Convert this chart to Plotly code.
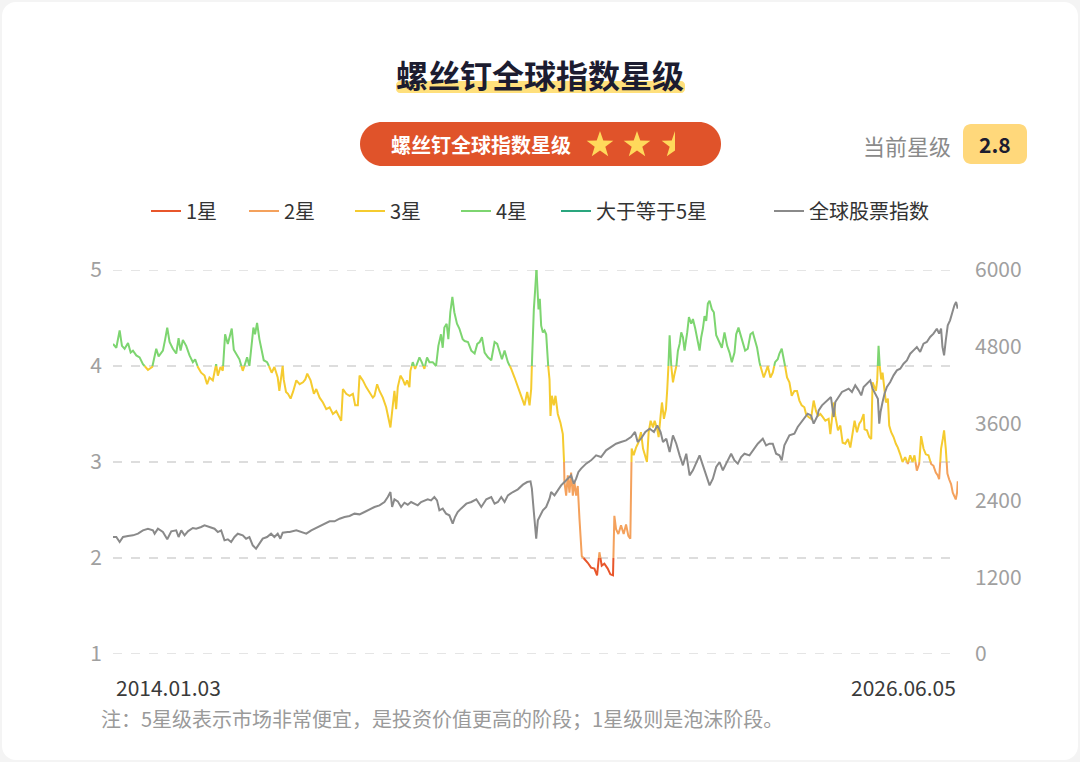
import math
import plotly.graph_objects as go

# ---------------- data ----------------
star_years = [
    2014.000, 2014.049, 2014.098, 2014.132, 2014.171, 2014.221, 2014.260, 2014.294, 2014.343, 2014.392,
    2014.441, 2014.515, 2014.578, 2014.613, 2014.637, 2014.672, 2014.735, 2014.769, 2014.799, 2014.833,
    2014.882, 2014.931, 2014.966, 2014.995, 2015.029, 2015.078, 2015.127, 2015.176, 2015.210, 2015.250,
    2015.298, 2015.348, 2015.386, 2015.421, 2015.470, 2015.519, 2015.544, 2015.583, 2015.617, 2015.651,
    2015.691, 2015.715, 2015.749, 2015.779, 2015.813, 2015.862, 2015.911, 2015.945, 2015.975, 2016.009,
    2016.043, 2016.068, 2016.092, 2016.122, 2016.156, 2016.190, 2016.220, 2016.269, 2016.303, 2016.337,
    2016.377, 2016.401, 2016.426, 2016.450, 2016.474, 2016.499, 2016.514, 2016.548,
    2016.577, 2016.616, 2016.651, 2016.700, 2016.749, 2016.798, 2016.832, 2016.861, 2016.910, 2016.959,
    2016.994, 2017.043, 2017.092, 2017.141, 2017.190, 2017.239, 2017.288, 2017.327, 2017.361, 2017.386,
    2017.435, 2017.484, 2017.533, 2017.567, 2017.606, 2017.631, 2017.680, 2017.729, 2017.778, 2017.827,
    2017.851, 2017.890, 2017.925, 2017.974, 2018.023, 2018.057, 2018.086, 2018.121, 2018.145, 2018.170,
    2018.194, 2018.233, 2018.268, 2018.302, 2018.331, 2018.366, 2018.380, 2018.415, 2018.449, 2018.488,
    2018.513, 2018.547, 2018.586, 2018.625, 2018.660, 2018.709, 2018.758, 2018.792, 2018.831, 2018.856,
    2018.880, 2018.914, 2018.939, 2018.968, 2018.998, 2019.027, 2019.066, 2019.101, 2019.150,
    2019.179, 2019.228, 2019.277, 2019.326, 2019.365, 2019.400, 2019.434, 2019.473, 2019.522, 2019.571,
    2019.620, 2019.659, 2019.694, 2019.728, 2019.767, 2019.816, 2019.865, 2019.914, 2019.953, 2019.988,
    2020.037, 2020.061, 2020.100, 2020.135, 2020.159, 2020.174, 2020.198, 2020.218, 2020.237, 2020.252,
    2020.267, 2020.286, 2020.306, 2020.331, 2020.355, 2020.380, 2020.404, 2020.429, 2020.443, 2020.463,
    2020.492, 2020.517, 2020.551, 2020.590, 2020.625, 2020.639, 2020.649, 2020.674, 2020.698, 2020.723,
    2020.747, 2020.772, 2020.796, 2020.821, 2020.845, 2020.870, 2020.904, 2020.943, 2020.992, 2021.041,
    2021.090, 2021.129, 2021.164, 2021.198, 2021.237, 2021.286, 2021.325, 2021.364, 2021.384, 2021.409,
    2021.443, 2021.482, 2021.521, 2021.556, 2021.590, 2021.619, 2021.639, 2021.668, 2021.703, 2021.737,
    2021.776, 2021.806, 2021.840, 2021.864, 2021.889, 2021.918, 2021.953, 2021.977, 2022.016, 2022.036,
    2022.065, 2022.085, 2022.114, 2022.144, 2022.163, 2022.183, 2022.198, 2022.222, 2022.247, 2022.271,
    2022.296, 2022.320, 2022.345, 2022.369, 2022.394, 2022.418, 2022.457, 2022.482, 2022.516, 2022.541,
    2022.575, 2022.614, 2022.639, 2022.663, 2022.688, 2022.712, 2022.737, 2022.761, 2022.786, 2022.820,
    2022.849, 2022.884, 2022.933, 2022.967, 2023.006, 2023.045, 2023.080, 2023.114, 2023.153, 2023.178,
    2023.212, 2023.241, 2023.276, 2023.310, 2023.349, 2023.388, 2023.423, 2023.457, 2023.486, 2023.521,
    2023.545, 2023.584, 2023.619, 2023.643, 2023.682, 2023.717, 2023.751, 2023.790, 2023.815, 2023.849,
    2023.873, 2023.898, 2023.927, 2023.962, 2023.996, 2024.035, 2024.074, 2024.109, 2024.143, 2024.182,
    2024.207, 2024.241, 2024.280, 2024.319, 2024.354, 2024.383, 2024.418, 2024.452, 2024.491, 2024.540,
    2024.565, 2024.589, 2024.614, 2024.638, 2024.677, 2024.712, 2024.746, 2024.785, 2024.824, 2024.859,
    2024.883, 2024.922, 2024.957, 2024.991, 2025.020, 2025.055, 2025.069, 2025.104, 2025.138, 2025.167,
    2025.187, 2025.216, 2025.236, 2025.255, 2025.275, 2025.295, 2025.314, 2025.334, 2025.363, 2025.383,
    2025.412, 2025.432, 2025.461, 2025.496, 2025.530, 2025.559, 2025.594, 2025.628, 2025.667, 2025.706,
    2025.741, 2025.775, 2025.804, 2025.839, 2025.873, 2025.902, 2025.937, 2025.971, 2026.010, 2026.049,
    2026.084, 2026.118, 2026.147, 2026.167, 2026.196, 2026.221, 2026.240, 2026.265, 2026.289, 2026.314,
    2026.343, 2026.368, 2026.392, 2026.412, 2026.431, 2026.441,
]
star_values = [
    4.23, 4.19, 4.37, 4.21, 4.18, 4.24, 4.14, 4.16, 4.11, 4.09,
    4.02, 3.96, 3.99, 4.09, 4.18, 4.10, 4.16, 4.28, 4.40, 4.25,
    4.18, 4.13, 4.29, 4.16, 4.27, 4.21, 4.11, 4.04, 4.07, 3.99,
    3.93, 3.90, 3.81, 3.88, 3.85, 4.02, 3.90, 3.99, 3.95, 4.33,
    4.23, 4.30, 4.39, 4.17, 4.13, 4.07, 3.95, 4.02, 4.09, 4.00,
    4.28, 4.40, 4.33, 4.45, 4.28, 4.18, 4.06, 4.04, 3.99, 3.93,
    3.99, 3.93, 3.88, 3.74, 3.88, 4.00, 3.86, 3.73,
    3.71, 3.66, 3.73, 3.85, 3.81, 3.83, 3.86, 3.92, 3.85, 3.71,
    3.76, 3.67, 3.62, 3.55, 3.57, 3.50, 3.53, 3.47, 3.43, 3.76,
    3.71, 3.69, 3.71, 3.59, 3.59, 3.90, 3.85, 3.78, 3.73, 3.67,
    3.69, 3.81, 3.74, 3.67, 3.57, 3.45, 3.36, 3.59, 3.74, 3.55,
    3.78, 3.90, 3.86, 3.80, 3.85, 3.78, 3.95, 4.04, 3.97, 4.04,
    4.09, 4.04, 3.97, 4.09, 4.04, 4.04, 4.00, 4.21, 4.33, 4.19,
    4.40, 4.44, 4.28, 4.56, 4.72, 4.56, 4.44, 4.39, 4.28,
    4.26, 4.25, 4.16, 4.13, 4.23, 4.25, 4.30, 4.14, 4.09, 4.06,
    4.25, 4.23, 4.14, 4.07, 4.16, 4.04, 3.97, 3.88, 3.80, 3.74,
    3.64, 3.59, 3.73, 3.59, 3.76, 4.13, 4.59, 4.80, 5.01, 4.73,
    4.59, 4.70, 4.42, 4.35, 4.37, 4.33, 4.04, 3.86, 3.48, 3.69,
    3.59, 3.69, 3.50, 3.41, 3.29, 3.14, 2.79, 2.65, 2.86, 2.68,
    2.89, 2.65, 2.79, 2.65, 2.75, 2.41, 2.02, 1.99, 1.95, 1.90,
    1.89, 1.82, 2.06, 1.92, 1.94, 1.89, 1.83, 1.82, 2.44, 2.30,
    2.25, 2.34, 2.25, 2.35, 2.23, 2.20, 3.14, 3.07, 3.15, 3.20,
    3.31, 3.14, 3.07, 3.00, 3.31, 3.43, 3.36, 3.43, 3.34, 3.26,
    3.48, 3.62, 3.45, 3.55, 3.76, 4.04, 4.32, 4.00, 3.83, 3.92,
    3.99, 4.16, 4.23, 4.35, 4.30, 4.16, 4.35, 4.51, 4.44, 4.49,
    4.39, 4.23, 4.16, 4.30, 4.39, 4.52, 4.47, 4.65, 4.68, 4.59,
    4.56, 4.32, 4.25, 4.19, 4.35, 4.21, 4.14, 4.04, 4.14, 4.33,
    4.40, 4.33, 4.23, 4.16, 4.18, 4.33, 4.35, 4.25, 4.19, 4.04,
    3.97, 3.88, 3.95, 4.00, 3.88, 3.93, 4.04, 4.07, 4.13, 4.18,
    4.07, 4.00, 3.88, 3.83, 3.69, 3.74, 3.74, 3.64, 3.59, 3.57,
    3.50, 3.47, 3.45, 3.64, 3.53, 3.48, 3.50, 3.47, 3.43, 3.45,
    3.29, 3.45, 3.62, 3.48, 3.33, 3.38, 3.20, 3.19, 3.24, 3.15,
    3.27, 3.43, 3.31, 3.40, 3.43, 3.50, 3.34, 3.33, 3.26, 3.24,
    3.83, 3.78, 3.74, 3.85, 4.21, 3.97, 3.86, 3.93, 3.78, 3.62,
    3.66, 3.38, 3.31, 3.26, 3.19, 3.15, 3.08, 3.00, 3.05, 2.98,
    3.07, 3.00, 3.07, 2.91, 2.98, 3.27, 3.14, 3.08, 3.07, 2.98,
    2.96, 2.89, 2.86, 2.82, 3.14, 3.24, 3.33, 3.14, 2.88, 2.82,
    2.77, 2.68, 2.65, 2.61, 2.68, 2.80,
]

index_years = [
    2014.000, 2014.049, 2014.098, 2014.147, 2014.221, 2014.294, 2014.368, 2014.441, 2014.515, 2014.588,
    2014.613, 2014.662, 2014.735, 2014.799, 2014.858, 2014.931, 2014.966, 2015.005, 2015.054, 2015.103,
    2015.176, 2015.225, 2015.298, 2015.348, 2015.421, 2015.495, 2015.544, 2015.593, 2015.642, 2015.691,
    2015.740, 2015.789, 2015.838, 2015.911, 2015.960, 2016.009, 2016.058, 2016.107, 2016.156, 2016.205,
    2016.269, 2016.328, 2016.377, 2016.426, 2016.465, 2016.499, 2016.573,
    2016.602, 2016.700, 2016.773, 2016.847, 2016.920, 2017.018, 2017.116, 2017.190, 2017.263, 2017.337,
    2017.410, 2017.484, 2017.557, 2017.631, 2017.704, 2017.778, 2017.851, 2017.925, 2017.998, 2018.047,
    2018.086, 2018.111, 2018.145, 2018.194, 2018.243, 2018.292, 2018.341, 2018.390, 2018.439, 2018.488,
    2018.537, 2018.586, 2018.635, 2018.684, 2018.733, 2018.772, 2018.807, 2018.856, 2018.905, 2018.954,
    2019.003, 2019.037, 2019.076, 2019.125, 2019.174,
    2019.204, 2019.277, 2019.351, 2019.424, 2019.498, 2019.571, 2019.620, 2019.669, 2019.718, 2019.767,
    2019.816, 2019.890, 2019.963, 2020.037, 2020.100, 2020.149, 2020.169, 2020.198, 2020.218, 2020.233,
    2020.257, 2020.296, 2020.331, 2020.380, 2020.429, 2020.453, 2020.502, 2020.551, 2020.600, 2020.649,
    2020.698, 2020.747, 2020.786, 2020.821, 2020.855, 2020.894, 2020.968, 2021.041, 2021.115, 2021.188,
    2021.262, 2021.335, 2021.409, 2021.482, 2021.556, 2021.629, 2021.688, 2021.727, 2021.776,
    2021.840, 2021.904, 2021.967, 2022.016, 2022.065, 2022.100, 2022.149, 2022.198, 2022.247, 2022.296,
    2022.345, 2022.394, 2022.443, 2022.492, 2022.541, 2022.590, 2022.639, 2022.688, 2022.737, 2022.786,
    2022.835, 2022.884, 2022.933, 2022.982, 2023.031, 2023.104, 2023.153, 2023.202, 2023.251, 2023.300,
    2023.374, 2023.447, 2023.496, 2023.570, 2023.619, 2023.668, 2023.717, 2023.766, 2023.815, 2023.849,
    2023.888, 2023.962, 2024.035, 2024.084, 2024.158, 2024.231, 2024.280, 2024.319, 2024.378,
    2024.393, 2024.442, 2024.491, 2024.540, 2024.574, 2024.614, 2024.638, 2024.687, 2024.736, 2024.785,
    2024.834, 2024.883, 2024.932, 2024.981, 2025.020, 2025.055, 2025.104, 2025.153, 2025.187, 2025.226,
    2025.265, 2025.285, 2025.304, 2025.334, 2025.363, 2025.398, 2025.447, 2025.496, 2025.545, 2025.594,
    2025.643, 2025.692, 2025.741, 2025.790, 2025.839, 2025.888, 2025.937, 2025.986, 2026.035, 2026.084,
    2026.133, 2026.167, 2026.196, 2026.216, 2026.240, 2026.265, 2026.294, 2026.328, 2026.363, 2026.392,
    2026.417, 2026.441,
]
index_values = [
    1828, 1828, 1750, 1828, 1844, 1854, 1880, 1932, 1958, 1932,
    1880, 1958, 1906, 1792, 1917, 1932, 1828, 1932, 1854, 1917,
    1969, 1958, 1984, 2010, 1984, 1958, 1906, 1932, 1776, 1792,
    1750, 1828, 1880, 1854, 1802, 1828, 1698, 1646, 1724, 1802,
    1828, 1880, 1828, 1880, 1802, 1896, 1906,
    1906, 1932, 1906, 1880, 1932, 1984, 2036, 2073, 2073, 2114,
    2140, 2156, 2193, 2182, 2219, 2260, 2297, 2323, 2375, 2453,
    2531, 2297, 2417, 2385, 2297, 2364, 2333, 2375, 2349, 2323,
    2375, 2401, 2417, 2401, 2453, 2401, 2245, 2271, 2193, 2167,
    2036, 2140, 2219, 2271, 2323,
    2349, 2375, 2417, 2297, 2417, 2453, 2349, 2375, 2453, 2375,
    2479, 2531, 2573, 2646, 2687, 2698, 2583, 2219, 1958, 1802,
    2088, 2167, 2245, 2297, 2427, 2531, 2479, 2557, 2635, 2687,
    2739, 2792, 2661, 2739, 2844, 2896, 2974, 3026, 3104, 3078,
    3182, 3234, 3286, 3312, 3338, 3390, 3469, 3312, 3364,
    3469, 3521, 3469, 3573, 3469, 3312, 3364, 3156, 3416, 3286,
    3104, 2948, 3130, 2791, 2870, 3000, 3104, 2948, 2791, 2635,
    2739, 2922, 3000, 2870, 2974, 3130, 3026, 2974, 3078, 3130,
    3104, 3208, 3286, 3364, 3260, 3286, 3286, 3130, 3104, 3026,
    3260, 3416, 3442, 3547, 3651, 3755, 3729, 3599, 3729,
    3807, 3885, 3937, 3989, 4015, 3703, 3937, 4015, 4094, 4120,
    4146, 4094, 4198, 4120, 4041, 4172, 4224, 4276, 4146, 4067,
    3989, 3599, 3781, 3937, 4067, 4172, 4250, 4354, 4432, 4458,
    4536, 4588, 4692, 4744, 4797, 4719, 4849, 4875, 4953, 5005,
    5083, 5005, 5083, 4797, 4667, 4901, 5135, 5213, 5343, 5448,
    5500, 5396,
]

band_names = ["1星", "2星", "3星", "4星", "大于等于5星"]
band_colors = ["#E8562B", "#F4A15C", "#F5CB2F", "#7DD570", "#2AA67E"]
band_edges = [-math.inf, 2, 3, 4, 5, math.inf]
index_name = "全球股票指数"
index_color = "#8A8A8A"

star_ticks = [1, 2, 3, 4, 5]
index_ticks = [0, 1200, 2400, 3600, 4800, 6000]
start_label = "2014.01.03"
end_label = "2026.06.05"
title_text = "螺丝钉全球指数星级"
badge_text = "螺丝钉全球指数星级"
current_label = "当前星级"
current_star = star_values[-1]
note_text = "注：5星级表示市场非常便宜，是投资价值更高的阶段；1星级则是泡沫阶段。"

FONT = "Noto Sans CJK SC, Noto Sans, sans-serif"
GRID_COLOR = "#DDDDDD"

# ---------------- colour the star line by band ----------------
def band_of(v):
    for i in range(len(band_edges) - 1):
        if band_edges[i] <= v < band_edges[i + 1]:
            return i
    return len(band_edges) - 2

seg_x = {i: [] for i in range(len(band_names))}
seg_y = {i: [] for i in range(len(band_names))}

def add_piece(i, xa, ya, xb, yb):
    xs, ys = seg_x[i], seg_y[i]
    if xs and xs[-1] == xa and ys[-1] == ya:
        xs.append(xb); ys.append(yb)
    else:
        if xs:
            xs.append(None); ys.append(None)
        xs.extend([xa, xb]); ys.extend([ya, yb])

thresholds = [e for e in band_edges if math.isfinite(e)]
for k in range(len(star_years) - 1):
    x0, v0 = star_years[k], star_values[k]
    x1, v1 = star_years[k + 1], star_values[k + 1]
    lo, hi = min(v0, v1), max(v0, v1)
    cross = [b for b in thresholds if lo < b < hi]
    cross.sort(reverse=(v1 < v0))
    pts = [(x0, v0)] + [(x0 + (x1 - x0) * (b - v0) / (v1 - v0), b) for b in cross] + [(x1, v1)]
    for (xa, ya), (xb, yb) in zip(pts[:-1], pts[1:]):
        add_piece(band_of((ya + yb) / 2), xa, ya, xb, yb)

# ---------------- figure ----------------
L, R, T, B = 113, 958, 270, 654
W, H = 1080, 762

def PX(px):
    return (px - L) / (R - L)

def PY(py):
    return (B - py) / (B - T)

fig = go.Figure()

legend_x = [146, 244, 350, 456, 556, 769]
for i, name in enumerate(band_names):
    fig.add_trace(go.Scatter(
        x=seg_x[i] if seg_x[i] else [None], y=seg_y[i] if seg_y[i] else [None],
        mode="lines", name=name, showlegend=True,
        line=dict(color=band_colors[i], width=2),
        yaxis="y", legend="legend" if i == 0 else f"legend{i + 1}",
        hoverinfo="skip",
    ))
fig.add_trace(go.Scatter(
    x=index_years, y=index_values, mode="lines", name=index_name, showlegend=True,
    line=dict(color=index_color, width=2), yaxis="y2", legend="legend6",
    hoverinfo="skip",
))

legends = {}
for j, lx in enumerate(legend_x):
    key = "legend" if j == 0 else f"legend{j + 1}"
    legends[key] = dict(
        x=PX(lx), xref="paper", xanchor="left",
        y=PY(211), yref="paper", yanchor="middle",
        orientation="h", bgcolor="rgba(0,0,0,0)", borderwidth=0,
        font=dict(family=FONT, size=20, color="#333333"),
        itemwidth=30, itemclick=False, itemdoubleclick=False,
        visible=True,
    )

# ---------------- decorative shapes (paper coords from pixel layout) ----------------
def rrect_path(x0, y0, x1, y1, r):
    k = 0.5523 * r
    P = lambda x, y: f"{PX(x):.5f},{PY(y):.5f}"
    return (f"M {P(x0 + r, y0)} L {P(x1 - r, y0)} "
            f"C {P(x1 - r + k, y0)} {P(x1, y0 + r - k)} {P(x1, y0 + r)} "
            f"L {P(x1, y1 - r)} "
            f"C {P(x1, y1 - r + k)} {P(x1 - r + k, y1)} {P(x1 - r, y1)} "
            f"L {P(x0 + r, y1)} "
            f"C {P(x0 + r - k, y1)} {P(x0, y1 - r + k)} {P(x0, y1 - r)} "
            f"L {P(x0, y0 + r)} "
            f"C {P(x0, y0 + r - k)} {P(x0 + r - k, y0)} {P(x0 + r, y0)} Z")

def star_path(cx, cy, ro, ri, half=False):
    pts = []
    for k in range(10):
        a = math.radians(-90 + 36 * k)
        rad = ro if k % 2 == 0 else ri
        pts.append((cx + rad * math.cos(a), cy + rad * math.sin(a)))
    if half:
        pts = [pts[5], pts[6], pts[7], pts[8], pts[9], pts[0]]
    return "M " + " L ".join(f"{PX(x):.5f},{PY(y):.5f}" for x, y in pts) + " Z"

shapes = []
shapes.append(dict(type="path", xref="paper", yref="paper", layer="below",
                   path=rrect_path(2, 2, W - 2, H - 2, 14),
                   fillcolor="#FFFFFF", line=dict(width=0)))
# dashed grid lines at the two ends of the star axis (plotly omits edge gridlines)
for yv in (star_ticks[0], star_ticks[-1]):
    shapes.append(dict(type="line", xref="paper", yref="y", layer="below",
                       x0=0, x1=1, y0=yv, y1=yv,
                       line=dict(color=GRID_COLOR, width=1.5, dash="dash")))
shapes.append(dict(type="path", xref="paper", yref="paper", layer="above",
                   path=rrect_path(396, 81, 685, 93, 4),
                   fillcolor="#FFE07C", line=dict(width=0)))
shapes.append(dict(type="path", xref="paper", yref="paper", layer="above",
                   path=rrect_path(360, 122, 721, 166, 22),
                   fillcolor="#E0532A", line=dict(width=0)))
for cx in (600, 637):
    shapes.append(dict(type="path", xref="paper", yref="paper", layer="above",
                       path=star_path(cx, 145, 14, 5.6),
                       fillcolor="#FFD95B", line=dict(width=0)))
shapes.append(dict(type="path", xref="paper", yref="paper", layer="above",
                   path=star_path(675, 145, 14, 5.6, half=True),
                   fillcolor="#FFD95B", line=dict(width=0)))
shapes.append(dict(type="path", xref="paper", yref="paper", layer="above",
                   path=rrect_path(963, 124, 1027, 164, 8),
                   fillcolor="#FFD87B", line=dict(width=0)))

annotations = [
    dict(text=f"<b>{title_text}</b>", x=PX(540), y=PY(74), xref="paper", yref="paper",
         xanchor="center", yanchor="middle", showarrow=False,
         font=dict(family=FONT, size=32, color="#1C1C30")),
    dict(text=f"<b>{badge_text}</b>", x=PX(389), y=PY(144), xref="paper", yref="paper",
         xanchor="left", yanchor="middle", showarrow=False,
         font=dict(family=FONT, size=20, color="#FFFFFF")),
    dict(text=current_label, x=PX(953), y=PY(145), xref="paper", yref="paper",
         xanchor="right", yanchor="middle", showarrow=False,
         font=dict(family=FONT, size=22, color="#8A8A8A")),
    dict(text=f"<b>{current_star:.1f}</b>", x=PX(995), y=PY(144), xref="paper", yref="paper",
         xanchor="center", yanchor="middle", showarrow=False,
         font=dict(family=FONT, size=21, color="#1C1C30")),
    dict(text=start_label, x=PX(114), y=PY(687), xref="paper", yref="paper",
         xanchor="left", yanchor="middle", showarrow=False,
         font=dict(family=FONT, size=21, color="#3A3A3A")),
    dict(text=end_label, x=PX(958), y=PY(687), xref="paper", yref="paper",
         xanchor="right", yanchor="middle", showarrow=False,
         font=dict(family=FONT, size=21, color="#3A3A3A")),
    dict(text=note_text, x=PX(99), y=PY(718), xref="paper", yref="paper",
         xanchor="left", yanchor="middle", showarrow=False,
         font=dict(family=FONT, size=20, color="#9A9A9A")),
]

fig.update_layout(
    width=W, height=H, autosize=False,
    margin=dict(l=L, r=W - R, t=T, b=H - B, pad=0),
    paper_bgcolor="#F4F4F4", plot_bgcolor="rgba(0,0,0,0)",
    font=dict(family=FONT),
    showlegend=True,
    xaxis=dict(range=[2014.0, 2026.445], showgrid=False, zeroline=False,
               showline=False, showticklabels=False, ticks="", fixedrange=True),
    yaxis=dict(range=[star_ticks[0], star_ticks[-1]], tickvals=star_ticks,
               showgrid=True, gridcolor=GRID_COLOR, griddash="dash", gridwidth=1.5,
               zeroline=False, showline=False, ticks="",
               ticklabelstandoff=10,
               tickfont=dict(family=FONT, size=21, color="#A0A0A0")),
    yaxis2=dict(range=[index_ticks[0], index_ticks[-1]],
                tickvals=index_ticks, overlaying="y", side="right",
                showgrid=False, zeroline=False, showline=False, ticks="",
                ticklabelstandoff=16,
                tickfont=dict(family=FONT, size=21, color="#A0A0A0")),
    shapes=shapes,
    annotations=annotations,
    hovermode=False,
    **legends,
)

fig.write_html("out.html", config={"displayModeBar": False},
               post_script="document.body.style.margin='0';")
